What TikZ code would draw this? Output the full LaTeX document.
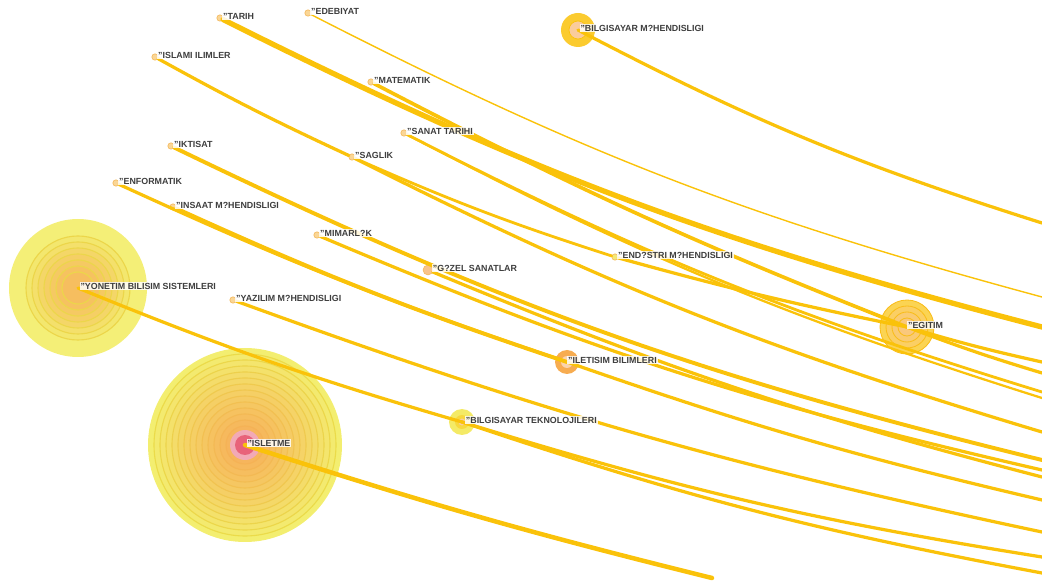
\documentclass[tikz,border=0pt]{standalone}
\usepackage{fontspec}
\setmainfont{Liberation Sans}
\usetikzlibrary{positioning}

\definecolor{edgegold}{RGB}{250,194,10}
\definecolor{hubyellow}{RGB}{243,238,112}
\definecolor{hubring}{RGB}{234,222,72}
\definecolor{huborange}{RGB}{247,170,88}
\definecolor{hubpink}{RGB}{232,98,122}
\definecolor{dotfill}{RGB}{250,214,150}
\definecolor{dotline}{RGB}{244,188,100}
\definecolor{labelgray}{RGB}{62,62,62}

\tikzset{
  edge/.style={edgegold, line width=2.3pt, line cap=round},
  dot/.style={circle, draw=dotline, fill=dotfill, inner sep=0pt, minimum size=4.5pt, line width=0.5pt},
  lbl/.style={font=\bfseries\fontsize{6.3}{7}\selectfont, text=labelgray, fill=white, fill opacity=0.85, text opacity=1, inner sep=0.6pt, yshift=1.2pt},
}

\begin{document}
\begin{tikzpicture}[x=0.025cm, y=-0.025cm]
\useasboundingbox (0,0) rectangle (1042,583);
\clip (0,0) rectangle (1042,583);

% hubs
\coordinate (yonetim) at (78,288);
\coordinate (isletme) at (245,445);
\coordinate (bmh) at (578,30);
\coordinate (egitim) at (907,327);
\coordinate (iletisim) at (567,362);
\coordinate (bilgtek) at (462,422);

\fill[hubyellow, opacity=0.95] (yonetim) circle[radius=69];
\foreach \r/\p in {52/10,46/20,40/35,34/45,28/55,22/65,16/70}{
  \filldraw[fill=huborange!\p!hubyellow, draw=hubring!85!huborange, line width=0.8pt] (yonetim) circle[radius=\r];
}

\fill[hubyellow] (isletme) circle[radius=97];
\foreach \i in {1,...,13}{
  \pgfmathsetmacro\rr{97-6*\i}
  \pgfmathsetmacro\pp{int(6.5*\i)}
  \filldraw[fill=huborange!\pp!hubyellow, draw=huborange!\pp!hubring, line width=0.8pt] (isletme) circle[radius=\rr];
}
\fill[hubpink!55!white] (isletme) circle[radius=15];
\fill[hubpink] (isletme) circle[radius=10];

\foreach \r/\p in {27/0,21/30,15/55,9/75}{
  \filldraw[fill=huborange!\p!edgegold!70!white, draw=edgegold!80!huborange, line width=0.6pt] (egitim) circle[radius=\r];
}
\fill[edgegold!85!white] (bmh) circle[radius=17];
\filldraw[fill=huborange!60!white, draw=edgegold, line width=0.5pt] (bmh) circle[radius=9];
\fill[huborange!90!edgegold] (iletisim) circle[radius=12];
\fill[huborange!50!white] (iletisim) circle[radius=6];
\fill[hubyellow!90!edgegold] (bilgtek) circle[radius=13];
\fill[edgegold!50!hubyellow] (bilgtek) circle[radius=7];
\fill[huborange!60!white] (bilgtek) circle[radius=3.5];

% small nodes
\node[dot] (tarih) at (220,18) {};
\node[dot] (edebiyat) at (308,13) {};
\node[dot] (islami) at (155,57) {};
\node[dot] (matematik) at (371,82) {};
\node[dot] (sanat) at (404,133) {};
\node[dot] (iktisat) at (171,146) {};
\node[dot] (saglik) at (352,157) {};
\node[dot] (enformatik) at (116,183) {};
\node[dot] (insaat) at (173,207) {};
\node[dot] (mimarlik) at (317,235) {};
\node[dot, minimum size=7pt, fill=huborange!70!white] (guzel) at (428,270) {};
\node[dot, fill=hubyellow!80!dotfill] (endustri) at (615,257) {};
\node[dot] (yazilim) at (233,300) {};

% exits at the right border
\foreach \y in {223,297,327,362,373,392,398,432,460,470,477,500,532,557,573}{
  \coordinate (x\y) at (1042,\y);
}
\coordinate (xbottom) at (712,578);

% edges
\draw[edge] (bmh) to[bend right=5] (x223);
\draw[edge, line width=1pt] (edebiyat) to[bend right=6] (x297);
\draw[edge, line width=3.8pt] (tarih) to[bend right=6] (x327);
\draw[edge, line width=2.6pt] (matematik) to[bend right=3] (egitim);
\draw[edge] (egitim) to[bend right=2] (x362);
\draw[edge] (egitim) to[bend right=2] (x373);
\draw[edge, line width=2pt] (sanat) to[bend right=5] (x392);
\draw[edge, line width=1.6pt] (sanat) to[bend right=5] (x398);
\draw[edge] (islami) to[bend right=2] (saglik);
\draw[edge] (saglik) to[bend right=5] (x432);
\draw[edge, line width=2pt] (saglik) to[bend right=3] (endustri);
\draw[edge] (endustri) to[bend right=2] (egitim);
\draw[edge, line width=2.8pt] (iktisat) to[bend right=6] (x460);
\draw[edge] (mimarlik) to[bend right=5] (x470);
\draw[edge] (guzel) to[bend right=4] (x477);
\draw[edge] (enformatik) to[bend right=3] (iletisim);
\draw[edge, line width=2.8pt] (insaat) to[bend right=3] (iletisim);
\draw[edge] (iletisim) to[bend right=3] (x500);
\draw[edge] (yazilim) to[bend right=4] (x532);
\draw[edge] (yonetim) to[bend right=3] (bilgtek);
\draw[edge] (bilgtek) to[bend right=4] (x557);
\draw[edge] (bilgtek) to[bend right=4] (x573);
\draw[edge, line width=3.2pt] (isletme) to[bend right=2] (xbottom);

% labels
\node[lbl, right=-1pt of tarih] {"TARIH};
\node[lbl, right=-1pt of edebiyat] {"EDEBIYAT};
\node[lbl, right=1pt of bmh] {"BILGISAYAR M?HENDISLIGI};
\node[lbl, right=-1pt of islami] {"ISLAMI ILIMLER};
\node[lbl, right=-1pt of matematik] {"MATEMATIK};
\node[lbl, right=-1pt of sanat] {"SANAT TARIHI};
\node[lbl, right=-1pt of iktisat] {"IKTISAT};
\node[lbl, right=-1pt of saglik] {"SAGLIK};
\node[lbl, right=-1pt of enformatik] {"ENFORMATIK};
\node[lbl, right=-1pt of insaat] {"INSAAT M?HENDISLIGI};
\node[lbl, right=-1pt of mimarlik] {"MIMARL?K};
\node[lbl, right=-1pt of guzel] {"G?ZEL SANATLAR};
\node[lbl, right=-1pt of endustri] {"END?STRI M?HENDISLIGI};
\node[lbl, right=1pt of yonetim] {"YONETIM BILISIM SISTEMLERI};
\node[lbl, right=-1pt of yazilim] {"YAZILIM M?HENDISLIGI};
\node[lbl, right=0pt of egitim] {"EGITIM};
\node[lbl, right=0pt of iletisim] {"ILETISIM BILIMLERI};
\node[lbl, right=2pt of bilgtek] {"BILGISAYAR TEKNOLOJILERI};
\node[lbl, right=1pt of isletme] {"ISLETME};

\end{tikzpicture}
\end{document}
